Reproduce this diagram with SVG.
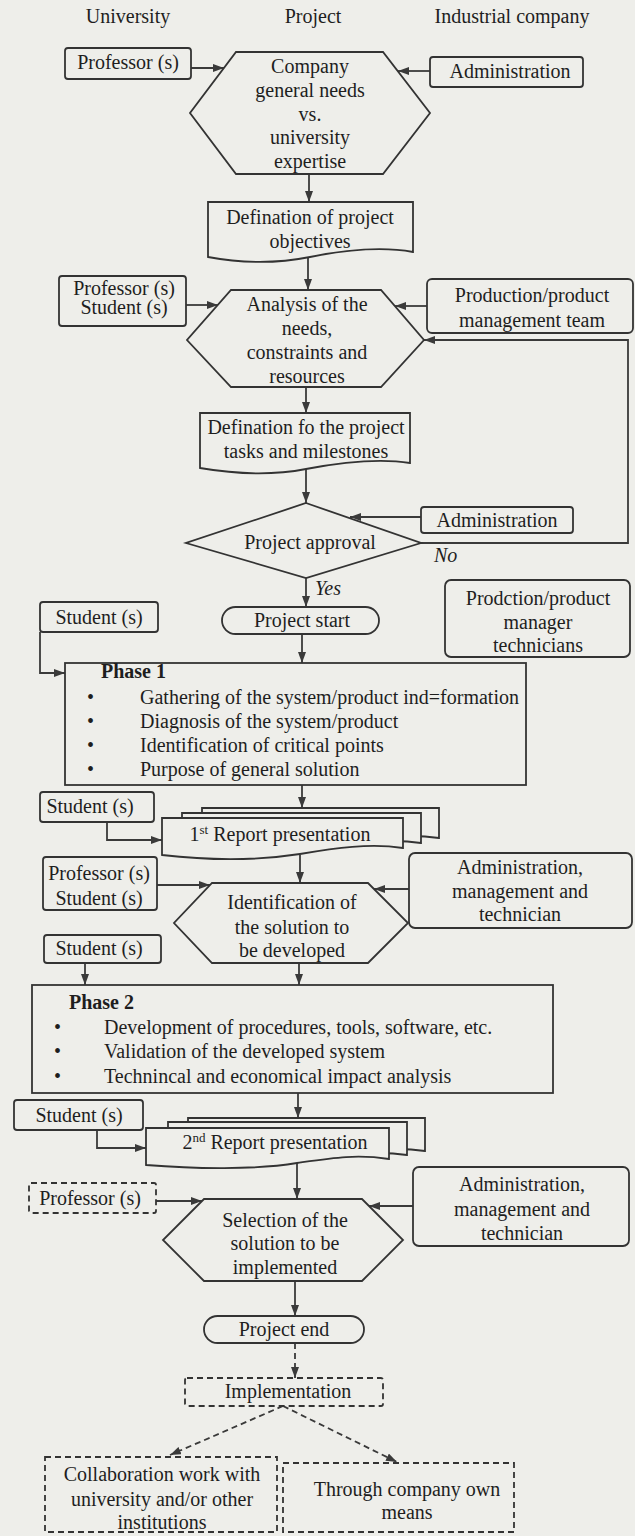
<svg xmlns="http://www.w3.org/2000/svg" width="635" height="1536" viewBox="0 0 635 1536">
<defs>
<style>
.t{font-family:"Liberation Serif","Times New Roman",serif;font-size:20px;fill:#1e1e1e;text-anchor:middle}
.l{text-anchor:start}
.b{font-weight:bold}
.i{font-style:italic}
.s{fill:#eeeeea;stroke:#333;stroke-width:1.8}
.d{stroke-dasharray:6 4}
.ln{fill:none;stroke:#3a3a3a;stroke-width:1.8}
</style>
<marker id="ah" markerWidth="11" markerHeight="8" refX="11" refY="4" orient="auto" markerUnits="userSpaceOnUse">
<path d="M0,0 L11,4 L0,8 z" fill="#3a3a3a"/>
</marker>
</defs>
<rect width="635" height="1536" fill="#eeeeea"/>

<g id="headers">
<text class="t" x="128" y="23">University</text>
<text class="t" x="313" y="23">Project</text>
<text class="t" x="512" y="23">Industrial company</text>
</g>

<g id="connectors">
<line class="ln" x1="191" y1="68" x2="224" y2="68" marker-end="url(#ah)"/>
<line class="ln" x1="430" y1="71" x2="398" y2="71" marker-end="url(#ah)"/>
<line class="ln" x1="309" y1="174" x2="309" y2="202" marker-end="url(#ah)"/>
<line class="ln" x1="308" y1="257" x2="308" y2="290" marker-end="url(#ah)"/>
<line class="ln" x1="186" y1="305" x2="218" y2="305" marker-end="url(#ah)"/>
<line class="ln" x1="427" y1="306" x2="395" y2="306" marker-end="url(#ah)"/>
<line class="ln" x1="306" y1="387" x2="306" y2="413" marker-end="url(#ah)"/>
<line class="ln" x1="306" y1="469" x2="306" y2="503" marker-end="url(#ah)"/>
<line class="ln" x1="421" y1="517" x2="350" y2="517" marker-end="url(#ah)"/>
<path class="ln" d="M421,543 H628 V340 H424" marker-end="url(#ah)"/>
<line class="ln" x1="306" y1="578" x2="306" y2="607" marker-end="url(#ah)"/>
<path class="ln" d="M40,632 V673 H65" marker-end="url(#ah)"/>
<line class="ln" x1="302" y1="634" x2="302" y2="663" marker-end="url(#ah)"/>
<line class="ln" x1="302" y1="785" x2="302" y2="808" marker-end="url(#ah)"/>
<path class="ln" d="M107,822 V840 H162" marker-end="url(#ah)"/>
<line class="ln" x1="300" y1="855" x2="300" y2="883" marker-end="url(#ah)"/>
<line class="ln" x1="157" y1="885" x2="210" y2="885" marker-end="url(#ah)"/>
<line class="ln" x1="409" y1="889" x2="374" y2="889" marker-end="url(#ah)"/>
<line class="ln" x1="85" y1="963" x2="85" y2="985" marker-end="url(#ah)"/>
<line class="ln" x1="299" y1="963" x2="299" y2="985" marker-end="url(#ah)"/>
<line class="ln" x1="298" y1="1093" x2="298" y2="1118" marker-end="url(#ah)"/>
<path class="ln" d="M97,1130 V1148 H146" marker-end="url(#ah)"/>
<line class="ln" x1="297" y1="1163" x2="297" y2="1199" marker-end="url(#ah)"/>
<line class="ln" x1="156" y1="1201" x2="202" y2="1201" marker-end="url(#ah)"/>
<line class="ln" x1="413" y1="1206" x2="369" y2="1206" marker-end="url(#ah)"/>
<line class="ln" x1="295" y1="1281" x2="295" y2="1316" marker-end="url(#ah)"/>
<line class="ln d" x1="295" y1="1343" x2="295" y2="1378" marker-end="url(#ah)"/>
<line class="ln d" x1="283" y1="1406" x2="170" y2="1455" marker-end="url(#ah)"/>
<line class="ln d" x1="283" y1="1406" x2="397" y2="1462" marker-end="url(#ah)"/>
</g>

<g id="prof1">
<rect class="s" x="65" y="48" width="126" height="31" rx="3"/>
<text class="t" x="128" y="69">Professor (s)</text>
</g>
<g id="hex1">
<polygon class="s" points="236,52 383,52 430,113 383,174 236,174 190,113"/>
<text class="t" x="310" y="73">Company</text>
<text class="t" x="310" y="97">general needs</text>
<text class="t" x="310" y="121">vs.</text>
<text class="t" x="310" y="144">university</text>
<text class="t" x="310" y="168">expertise</text>
</g>
<g id="admin1">
<rect class="s" x="430" y="57" width="153" height="30" rx="3"/>
<text class="t" x="510" y="78">Administration</text>
</g>

<g id="doc1">
<path class="s" d="M208,202 H413 V252 C380,246 345,250 310,257 C275,264 240,263 208,257 Z"/>
<text class="t" x="310" y="224">Defination of project</text>
<text class="t" x="310" y="248">objectives</text>
</g>

<g id="profstud1">
<rect class="s" x="59" y="276" width="127" height="50" rx="3"/>
<text class="t" x="124" y="295">Professor (s)</text>
<text class="t" x="124" y="314">Student (s)</text>
</g>
<g id="hex2">
<polygon class="s" points="231,290 381,290 424,340 381,387 231,387 187,340"/>
<text class="t" x="307" y="311">Analysis of the</text>
<text class="t" x="307" y="335">needs,</text>
<text class="t" x="307" y="359">constraints and</text>
<text class="t" x="307" y="383">resources</text>
</g>
<g id="prodteam">
<rect class="s" x="427" y="279" width="206" height="54" rx="5"/>
<text class="t" x="532" y="302">Production/product</text>
<text class="t" x="532" y="327">management team</text>
</g>

<g id="doc2">
<path class="s" d="M200,413 H410 V463 C378,458 343,462 306,469 C270,476 235,474 200,468 Z"/>
<text class="t" x="306" y="434">Defination fo the project</text>
<text class="t" x="306" y="458">tasks and milestones</text>
</g>

<g id="approval">
<polygon class="s" points="306,503 421,543 306,578 186,543"/>
<text class="t" x="310" y="549">Project approval</text>
<text class="t i l" x="434" y="562">No</text>
<text class="t i l" x="315" y="595">Yes</text>
</g>
<g id="admin2">
<rect class="s" x="421" y="507" width="152" height="26" rx="3"/>
<text class="t" x="497" y="527">Administration</text>
</g>

<g id="start">
<rect class="s" x="222" y="607" width="157" height="27" rx="13.5"/>
<text class="t" x="302" y="627">Project start</text>
</g>
<g id="stud1">
<rect class="s" x="40" y="602" width="118" height="30" rx="3"/>
<text class="t" x="99" y="624">Student (s)</text>
</g>
<g id="prodtech">
<rect class="s" x="445" y="580" width="185" height="77" rx="6"/>
<text class="t" x="538" y="605">Prodction/product</text>
<text class="t" x="538" y="629">manager</text>
<text class="t" x="538" y="652">technicians</text>
</g>

<g id="phase1">
<rect class="s" x="65" y="663" width="461" height="122"/>
<text class="t b l" x="101" y="678">Phase 1</text>
<text class="t l" x="87" y="704">•</text>
<text class="t l" x="87" y="728">•</text>
<text class="t l" x="87" y="752">•</text>
<text class="t l" x="87" y="776">•</text>
<text class="t l" x="140" y="704">Gathering of the system/product ind=formation</text>
<text class="t l" x="140" y="728">Diagnosis of the system/product</text>
<text class="t l" x="140" y="752">Identification of critical points</text>
<text class="t l" x="140" y="776">Purpose of general solution</text>
</g>

<g id="stud2">
<rect class="s" x="40" y="792" width="114" height="30" rx="3"/>
<text class="t" x="90" y="813">Student (s)</text>
</g>
<g id="report1">
<path class="s" d="M202,808 H439 V838 C405,833 370,838 330,845 C290,851 240,850 202,846 Z"/>
<path class="s" d="M182,813 H421 V843 C388,838 352,843 312,850 C272,856 222,855 182,851 Z"/>
<path class="s" d="M162,818 H403 V848 C370,843 335,848 300,854 C255,861 205,860 162,855 Z"/>
<text class="t" x="280" y="841">1<tspan font-size="13" dy="-7">st</tspan><tspan dy="7"> Report presentation</tspan></text>
</g>

<g id="profstud2">
<rect class="s" x="43" y="857" width="114" height="53" rx="3"/>
<text class="t" x="99" y="880">Professor (s)</text>
<text class="t" x="99" y="905">Student (s)</text>
</g>
<g id="hex3">
<polygon class="s" points="212,883 368,883 408,923 368,963 212,963 174,923"/>
<text class="t" x="292" y="909">Identification of</text>
<text class="t" x="292" y="934">the solution to</text>
<text class="t" x="292" y="957">be developed</text>
</g>
<g id="admin3">
<rect class="s" x="409" y="853" width="223" height="75" rx="6"/>
<text class="t" x="520" y="874">Administration,</text>
<text class="t" x="520" y="898">management and</text>
<text class="t" x="520" y="921">technician</text>
</g>
<g id="stud3">
<rect class="s" x="44" y="935" width="117" height="28" rx="3"/>
<text class="t" x="99" y="955">Student (s)</text>
</g>

<g id="phase2">
<rect class="s" x="32" y="985" width="521" height="108"/>
<text class="t b l" x="69" y="1009">Phase 2</text>
<text class="t l" x="54" y="1034">•</text>
<text class="t l" x="54" y="1058">•</text>
<text class="t l" x="54" y="1083">•</text>
<text class="t l" x="104" y="1034">Development of procedures, tools, software, etc.</text>
<text class="t l" x="104" y="1058">Validation of the developed system</text>
<text class="t l" x="104" y="1083">Technincal and economical impact analysis</text>
</g>

<g id="stud4">
<rect class="s" x="14" y="1100" width="129" height="30" rx="3"/>
<text class="t" x="79" y="1122">Student (s)</text>
</g>
<g id="report2">
<path class="s" d="M188,1118 H425 V1151 C392,1146 357,1151 318,1157 C278,1163 228,1162 188,1158 Z"/>
<path class="s" d="M168,1122 H407 V1155 C374,1150 339,1155 300,1161 C260,1167 210,1166 168,1162 Z"/>
<path class="s" d="M146,1128 H389 V1159 C356,1154 332,1158 297,1163 C255,1170 195,1169 146,1165 Z"/>
<text class="t" x="275" y="1149">2<tspan font-size="13" dy="-7">nd</tspan><tspan dy="7"> Report presentation</tspan></text>
</g>

<g id="prof3">
<rect class="s d" x="29" y="1183" width="127" height="30" rx="2"/>
<text class="t" x="90" y="1205">Professor (s)</text>
</g>
<g id="hex4">
<polygon class="s" points="204,1199 362,1199 403,1240 362,1281 204,1281 163,1240"/>
<text class="t" x="285" y="1227">Selection of the</text>
<text class="t" x="285" y="1250">solution to be</text>
<text class="t" x="285" y="1274">implemented</text>
</g>
<g id="admin4">
<rect class="s" x="413" y="1167" width="216" height="79" rx="6"/>
<text class="t" x="522" y="1191">Administration,</text>
<text class="t" x="522" y="1216">management and</text>
<text class="t" x="522" y="1240">technician</text>
</g>

<g id="end">
<rect class="s" x="204" y="1316" width="160" height="27" rx="13.5"/>
<text class="t" x="284" y="1336">Project end</text>
</g>
<g id="implementation">
<rect class="s d" x="185" y="1378" width="198" height="28" rx="2"/>
<text class="t" x="288" y="1398">Implementation</text>
</g>
<g id="collab">
<rect class="s d" x="45" y="1457" width="232" height="75"/>
<text class="t" x="162" y="1481">Collaboration work with</text>
<text class="t" x="162" y="1506">university and/or other</text>
<text class="t" x="162" y="1529">institutions</text>
</g>
<g id="own">
<rect class="s d" x="283" y="1463" width="231" height="69"/>
<text class="t" x="407" y="1496">Through company own</text>
<text class="t" x="407" y="1519">means</text>
</g>
</svg>
